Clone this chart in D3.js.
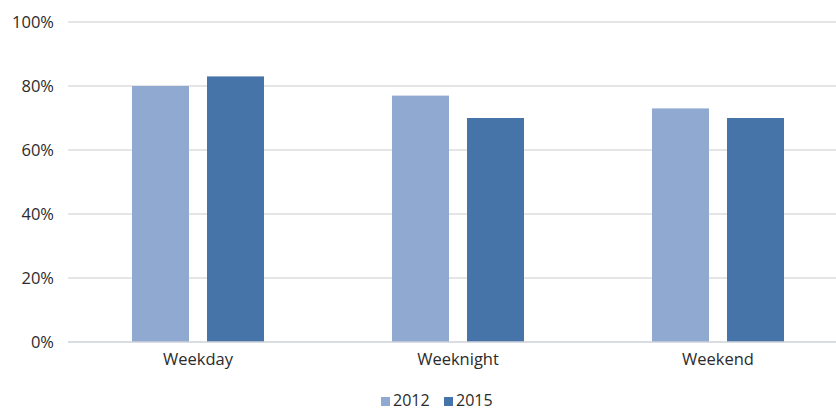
<!DOCTYPE html>
<html>
<head>
<meta charset="utf-8">
<script src="https://cdn.jsdelivr.net/npm/d3@7/dist/d3.min.js"></script>
<style>
  html, body { margin: 0; padding: 0; background: #fff; }
  svg { display: block; font-family: "Open Sans", "DejaVu Sans", sans-serif; }
</style>
</head>
<body>
<svg id="chart" width="836" height="412"></svg>
<script>
// Share of occasions by time slot, 2012 vs 2015
const categories = ["Weekday", "Weeknight", "Weekend"];
const seriesNames = ["2012", "2015"];
const values2012 = [80, 77, 73];
const values2015 = [83, 70, 70];
const yTicks = [0, 20, 40, 60, 80, 100];

const colors = { "2012": "#8fa9d1", "2015": "#4673a8" };
const seriesValues = { "2012": values2012, "2015": values2015 };

const svg = d3.select("#chart");
const margin = { left: 68, right: -12, top: 22, bottom: 70 };
const width = 836, height = 412;
const textColor = "#2b2b2b";

const x = d3.scaleBand()
  .domain(categories)
  .range([margin.left, width - margin.right])
  .paddingInner(0).paddingOuter(0);

const xs = d3.scaleBand()
  .domain(seriesNames)
  .range([0, 132])
  .paddingInner(0.24);

const y = d3.scaleLinear()
  .domain([0, 100])
  .range([height - margin.bottom, margin.top]);

// gridlines
svg.append("g")
  .selectAll("line")
  .data(yTicks.filter(t => t > 0))
  .join("line")
  .attr("x1", margin.left).attr("x2", width)
  .attr("y1", d => y(d)).attr("y2", d => y(d))
  .attr("stroke", "#dcdcdc").attr("stroke-width", 1.5);

// y tick labels
svg.append("g")
  .selectAll("text")
  .data(yTicks)
  .join("text")
  .attr("x", 54)
  .attr("y", d => y(d))
  .attr("dy", "0.36em")
  .attr("text-anchor", "end")
  .attr("font-size", 16.5)
  .attr("fill", textColor)
  .text(d => d + "%");

// bars
const groups = svg.append("g")
  .selectAll("g")
  .data(categories)
  .join("g")
  .attr("transform", d => `translate(${x(d) + x.bandwidth() / 2 - 66},0)`);

groups.selectAll("rect")
  .data((d, i) => seriesNames.map(s => ({ s, v: seriesValues[s][i] })))
  .join("rect")
  .attr("x", d => xs(d.s))
  .attr("width", xs.bandwidth())
  .attr("y", d => y(d.v))
  .attr("height", d => y(0) - y(d.v))
  .attr("fill", d => colors[d.s]);

// baseline
svg.append("line")
  .attr("x1", margin.left).attr("x2", width)
  .attr("y1", y(0)).attr("y2", y(0))
  .attr("stroke", "#cdd1da").attr("stroke-width", 1.5);

// category labels
svg.append("g")
  .selectAll("text")
  .data(categories)
  .join("text")
  .attr("x", d => x(d) + x.bandwidth() / 2)
  .attr("y", y(0) + 23)
  .attr("text-anchor", "middle")
  .attr("font-size", 16.5)
  .attr("fill", textColor)
  .text(d => d);

// legend
const legend = svg.append("g").attr("transform", "translate(381,406)");
const legendOffsets = [0, 63];
seriesNames.forEach((s, i) => {
  const g = legend.append("g").attr("transform", `translate(${legendOffsets[i]},0)`);
  g.append("rect").attr("x", 0).attr("y", -9).attr("width", 9).attr("height", 9).attr("fill", colors[s]);
  g.append("text").attr("x", 12).attr("y", 0).attr("font-size", 16).attr("fill", textColor).text(s);
});
</script>
</body>
</html>
